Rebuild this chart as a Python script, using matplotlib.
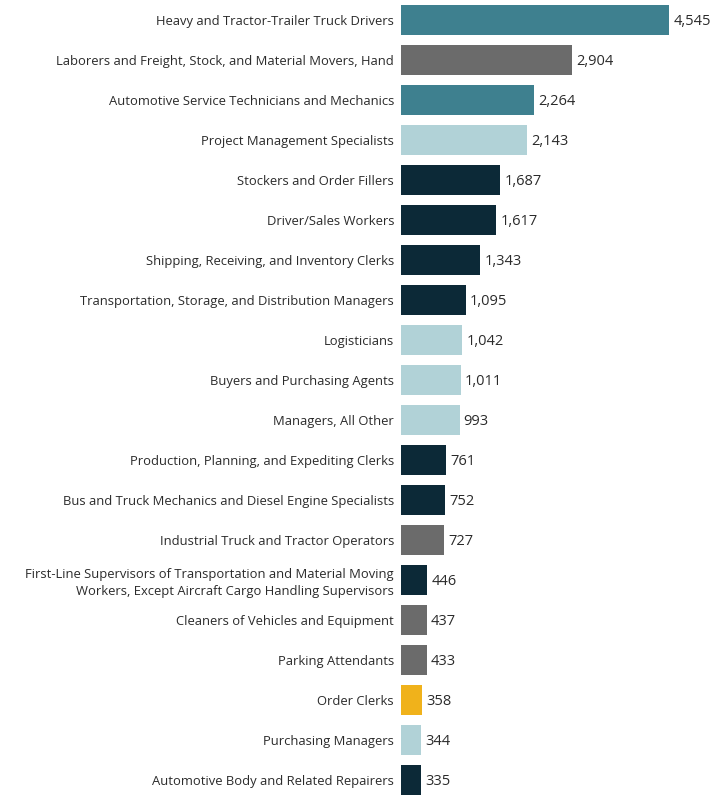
import matplotlib.pyplot as plt

occupations = [
    "Heavy and Tractor-Trailer Truck Drivers",
    "Laborers and Freight, Stock, and Material Movers, Hand",
    "Automotive Service Technicians and Mechanics",
    "Project Management Specialists",
    "Stockers and Order Fillers",
    "Driver/Sales Workers",
    "Shipping, Receiving, and Inventory Clerks",
    "Transportation, Storage, and Distribution Managers",
    "Logisticians",
    "Buyers and Purchasing Agents",
    "Managers, All Other",
    "Production, Planning, and Expediting Clerks",
    "Bus and Truck Mechanics and Diesel Engine Specialists",
    "Industrial Truck and Tractor Operators",
    "First-Line Supervisors of Transportation and Material Moving\nWorkers, Except Aircraft Cargo Handling Supervisors",
    "Cleaners of Vehicles and Equipment",
    "Parking Attendants",
    "Order Clerks",
    "Purchasing Managers",
    "Automotive Body and Related Repairers",
]
counts = [4545, 2904, 2264, 2143, 1687, 1617, 1343, 1095, 1042, 1011,
          993, 761, 752, 727, 446, 437, 433, 358, 344, 335]
groups = ["teal", "gray", "teal", "light", "navy", "navy", "navy", "navy", "light", "light",
          "light", "navy", "navy", "gray", "navy", "gray", "gray", "gold", "light", "navy"]

palette = {"teal": "#3e808f", "gray": "#6b6b6b", "light": "#b1d2d7",
           "navy": "#0c2937", "gold": "#f0b21b"}

plt.rcParams['font.family'] = ['Open Sans', 'DejaVu Sans']

fig = plt.figure(figsize=(7.26, 8), dpi=100)
ax = fig.add_axes([401 / 726, 0, 325 / 726, 1])

ypos = list(range(len(occupations)))
ax.barh(ypos, counts, height=0.75, color=[palette[g] for g in groups])
for y, v in zip(ypos, counts):
    ax.annotate(f"{v:,}", (v, y), xytext=(3, 0), textcoords="offset points",
                va="center_baseline", ha="left", fontsize=10.5, color="#2b2b2b")

ax.set_yticks(ypos)
ax.set_yticklabels(occupations, fontsize=9.35, color="#2b2b2b", linespacing=1.35)
ax.tick_params(axis="y", length=0, pad=5)
ax.set_ylim(len(occupations) - 0.5, -0.5)
ax.set_xlim(0, 4545 * 325 / 268)
ax.set_xticks([])
for s in ax.spines.values():
    s.set_visible(False)

fig.savefig("out.png", dpi=100)
